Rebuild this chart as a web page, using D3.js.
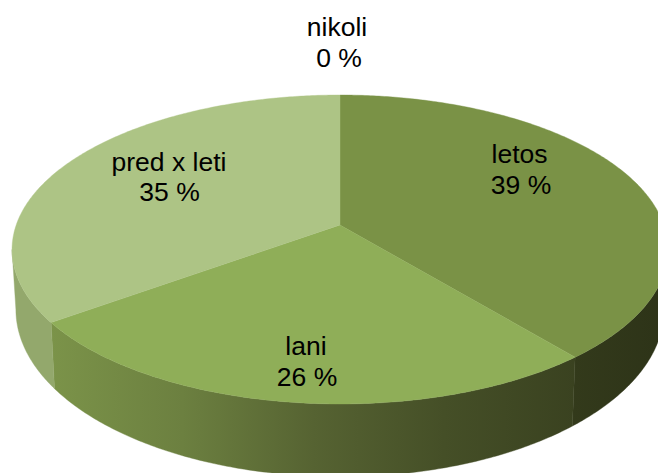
<!DOCTYPE html>
<html>
<head>
<meta charset="utf-8">
<script src="https://cdn.jsdelivr.net/npm/d3@7/dist/d3.min.js"></script>
<style>
html,body{margin:0;padding:0;background:#fff;overflow:hidden}
svg{display:block}
text{font-family:"Liberation Sans",Arial,sans-serif;font-size:26.5px;fill:#000;text-anchor:middle}
</style>
</head>
<body>
<svg id="chart" width="658" height="473"></svg>
<script>
const categories = ["letos", "lani", "pred x leti", "nikoli"];
const shares = [39, 26, 35, 0];
const percentLabels = ["39 %", "26 %", "35 %", "0 %"];

const topColors = ["#7a9246", "#8fae58", "#adc485", "#8fae58"];
const sideStops = [
  [["0%", "#333a1b"], ["100%", "#2d3318"]],
  [["0%", "#7b9349"], ["25%", "#6c8040"], ["50%", "#566332"], ["75%", "#454f27"], ["100%", "#3a4220"]],
  [["0%", "#93a86c"], ["100%", "#93a86c"]],
  [["0%", "#8fae58"], ["100%", "#8fae58"]]
];
// label centres: [x of name, x of percent, baseline of name, baseline of percent]
const labelLayout = [
  [519.5, 521, 163, 194],
  [306, 307, 355, 386],
  [169, 169.5, 171, 201],
  [337, 339, 36, 67]
];

const W = 658, H = 473;
const cx = 340, apexY = 225, k = -0.1586;
const topDisc = {C: 323.8, B: 150.6, Y0: apexY};
const baseDisc = {C: 320, B: 163, Y0: 283};

function project(angle, disc) {
  const u = Math.sin(angle), v = -Math.cos(angle), w = 1 + k * v;
  return [cx + disc.C * u / w, disc.Y0 + disc.B * v / w];
}
function arcAngles(a0, a1) {
  const n = Math.max(2, Math.ceil((a1 - a0) / 0.01));
  return d3.range(n + 1).map(i => a0 + (a1 - a0) * i / n);
}

const svg = d3.select("#chart");
const defs = svg.append("defs");
const arcs = d3.pie().sort(null).value(d => d).startAngle(0).endAngle(2 * Math.PI)(shares);
const path = d3.line();

// visible front part of the rim, as angle limits
const rimFrom = 1.73, rimTo = 2 * Math.PI - 1.73;

arcs.forEach((d, i) => {
  const a0 = Math.max(d.startAngle, rimFrom), a1 = Math.min(d.endAngle, rimTo);
  if (a1 <= a0) return;
  const angles = arcAngles(a0, a1);
  const upper = angles.map(a => project(a, topDisc));
  const lower = angles.map(a => project(a, baseDisc)).reverse();
  const xs = upper.concat(lower).map(p => p[0]);
  const grad = defs.append("linearGradient")
    .attr("id", "side" + i)
    .attr("gradientUnits", "userSpaceOnUse")
    .attr("x1", d3.min(xs)).attr("x2", d3.max(xs))
    .attr("y1", 0).attr("y2", 0);
  sideStops[i].forEach(s => grad.append("stop").attr("offset", s[0]).attr("stop-color", s[1]));
  svg.append("path")
    .attr("d", path(upper.concat(lower)) + "Z")
    .attr("fill", "url(#side" + i + ")")
    .attr("stroke", "url(#side" + i + ")")
    .attr("stroke-width", 0.4);
});

arcs.forEach((d, i) => {
  if (d.endAngle <= d.startAngle) return;
  const rim = arcAngles(d.startAngle, d.endAngle).map(a => project(a, topDisc));
  const poly = [[cx, apexY]].concat(rim);
  svg.append("path")
    .attr("d", path(poly) + "Z")
    .attr("fill", topColors[i])
    .attr("stroke", topColors[i])
    .attr("stroke-width", 0.4);
});

categories.forEach((name, i) => {
  const L = labelLayout[i];
  svg.append("text").attr("x", L[0]).attr("y", L[2]).text(name);
  svg.append("text").attr("x", L[1]).attr("y", L[3]).text(percentLabels[i]);
});
</script>
</body>
</html>
